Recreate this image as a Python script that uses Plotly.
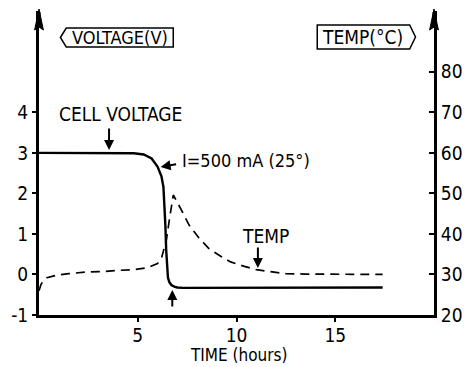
import plotly.graph_objects as go

# ---- data ----
volt_time = [0, 1, 2, 3, 4, 4.8, 5.3, 5.7, 6.0, 6.2, 6.3, 6.36, 6.4, 6.44, 6.48, 6.53, 6.6, 6.7, 6.85, 7.0, 7.3, 8, 10, 12, 14, 17.4]
volt_vals = [3.0, 3.0, 3.0, 3.0, 3.0, 2.99, 2.96, 2.86, 2.66, 2.42, 2.16, 1.7, 1.2, 0.6, 0.15, -0.08, -0.19, -0.26, -0.3, -0.32, -0.33, -0.33, -0.33, -0.32, -0.32, -0.32]

temp_time = [0, 0.1, 0.2, 0.4, 0.9, 1.5, 2.4, 3.2, 4.0, 4.85, 5.5, 6.0, 6.2, 6.37, 6.45, 6.6, 6.8, 7.2, 7.6, 8.1, 8.6, 9.2, 9.7, 10.4, 11.0, 12.0, 12.5, 13.5, 15, 17.4]
temp_vals = [26.0, 27.5, 28.3, 29.2, 29.8, 30.2, 30.6, 30.7, 31.0, 31.2, 31.7, 32.7, 34.0, 36.8, 38.5, 43.5, 49.6, 46.0, 42.2, 39.0, 36.4, 34.5, 33.1, 32.0, 31.2, 30.5, 30.2, 30.1, 30.0, 30.0]

x_ticks = [5, 10, 15]
volt_ticks = [-1, 0, 1, 2, 3, 4]
temp_ticks = [20, 30, 40, 50, 60, 70, 80]

# ---- layout geometry (pixels) ----
W, H = 474, 367
L, R, T, B = 35, 33, 11, 52
PW, PH = W - L - R, H - T - B

def px(x):
    return (x - L) / PW

def py(y):
    return (H - B - y) / PH

FONT = "DejaVu Sans Condensed, Liberation Sans Narrow, sans-serif"

fig = go.Figure()
fig.add_trace(go.Scatter(x=volt_time, y=volt_vals, mode="lines",
                         line=dict(color="black", width=2.4), showlegend=False))
fig.add_trace(go.Scatter(x=temp_time, y=temp_vals, mode="lines", yaxis="y2",
                         line=dict(color="black", width=1.7, dash="9px,6px"), showlegend=False))

fig.update_layout(
    width=W, height=H,
    margin=dict(l=L, r=R, t=T, b=B, pad=0),
    paper_bgcolor="white", plot_bgcolor="white",
    font=dict(family=FONT, size=18, color="black"),
    xaxis=dict(range=[0, 20], tickvals=x_ticks, ticktext=[str(v) for v in x_ticks],
               showgrid=False, zeroline=False, showline=True, linecolor="black", linewidth=3,
               ticks="outside", ticklen=4, tickwidth=2, tickcolor="black",
               ticklabelstandoff=-3, tickfont=dict(size=19)),
    yaxis=dict(range=[-1, 6.5], tickvals=volt_ticks, ticktext=[str(v) for v in volt_ticks],
               showgrid=False, zeroline=False, showline=True, linecolor="black", linewidth=3,
               ticks="outside", ticklen=4, tickwidth=2, tickcolor="black",
               tickfont=dict(size=19)),
    yaxis2=dict(range=[20, 95], tickvals=temp_ticks, ticktext=[str(v) for v in temp_ticks],
                overlaying="y", side="right", anchor="x",
                showgrid=False, zeroline=False, showline=True, linecolor="black", linewidth=3,
                ticks="inside", ticklen=5, tickwidth=2, tickcolor="black",
                tickfont=dict(size=19)),
)

annos = []
def text(t, x, y, size=19, xanchor="center"):
    annos.append(dict(text=t, x=px(x), y=py(y), xref="paper", yref="paper",
                      showarrow=False, xanchor=xanchor, yanchor="middle",
                      font=dict(family=FONT, size=size, color="black")))

def arrow(hx, hy, tx, ty, width=2):
    annos.append(dict(text="", x=px(hx), y=py(hy), xref="paper", yref="paper",
                      ax=tx - hx, ay=ty - hy, showarrow=True, arrowhead=2,
                      arrowsize=1, arrowwidth=width, arrowcolor="black"))

text("VOLTAGE(V)", 118, 38, size=18)
text("TEMP(°C)", 368, 37, size=19)
text("CELL VOLTAGE", 119, 114, size=19)
text("I=500 mA (25°)", 180, 160, size=18, xanchor="left")
text("TEMP", 268, 236, size=19)
text("TIME (hours)", 241, 355, size=17)

arrow(107, 150, 107, 127)
arrow(160, 167, 177, 164)
arrow(260, 268, 260, 246)
arrow(172, 290, 172, 308)

fig.update_layout(annotations=annos)

def path(points):
    s = "M " + " L ".join(f"{px(x):.4f},{py(y):.4f}" for x, y in points) + " Z"
    return s

# axis arrowheads
for ax_x in (35, 441):
    fig.add_shape(type="path", xref="paper", yref="paper",
                  path=path([(ax_x, 9), (ax_x + 4.5, 30), (ax_x, 27), (ax_x - 4.5, 30)]),
                  line=dict(color="black", width=1), fillcolor="black")
    fig.add_shape(type="line", xref="paper", yref="paper",
                  x0=px(ax_x), x1=px(ax_x), y0=py(12), y1=py(28),
                  line=dict(color="black", width=3))

fig.add_shape(type="path", xref="paper", yref="paper",
              path=path([(57, 37.5), (63, 28), (173, 28), (173, 47), (63, 47)]),
              line=dict(color="black", width=1.5))
fig.add_shape(type="path", xref="paper", yref="paper",
              path=path([(321, 25), (416, 25), (422, 37), (416, 49), (321, 49)]),
              line=dict(color="black", width=1.5))

fig.write_html("out.html")
